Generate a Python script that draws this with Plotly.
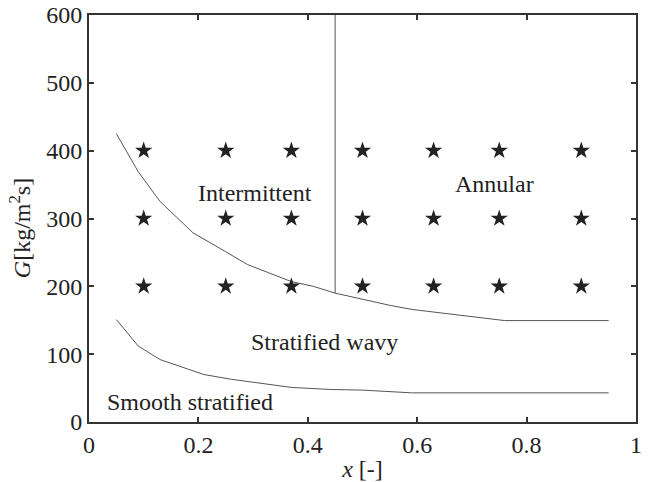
import plotly.graph_objects as go

# Upper transition curve (intermittent/annular vs stratified wavy)
upper_x = [0.05, 0.09, 0.13, 0.19, 0.25, 0.29, 0.37, 0.41, 0.45, 0.51, 0.55, 0.59, 0.64, 0.73, 0.76, 0.95]
upper_g = [425, 369, 325, 279, 251, 232, 207, 200, 190, 179, 172, 166, 161, 152, 149.5, 149.5]

# Lower transition curve (stratified wavy vs smooth stratified)
lower_x = [0.05, 0.09, 0.13, 0.21, 0.26, 0.37, 0.44, 0.50, 0.59, 0.95]
lower_g = [151, 112, 92, 70, 63, 51, 48, 47, 43, 43]

# Vertical boundary intermittent / annular
vline_x = [0.45, 0.45]
vline_g = [190, 600]

# Experimental points
exp_x = [0.1, 0.25, 0.37, 0.5, 0.63, 0.75, 0.9]
exp_g = [200, 300, 400]

# Region labels
label_text = ["Intermittent", "Annular", "Stratified wavy", "Smooth stratified"]
label_x = [0.304, 0.742, 0.43, 0.185]
label_g = [338, 351, 118, 30]

x_ticks = [0, 0.2, 0.4, 0.6, 0.8, 1]
x_ticklabels = ["0", "0.2", "0.4", "0.6", "0.8", "1"]
y_ticks = [0, 100, 200, 300, 400, 500, 600]

font_family = "Liberation Serif"
text_color = "#222222"
line_color = "#555555"

fig = go.Figure()
fig.add_trace(go.Scatter(x=upper_x, y=upper_g, mode="lines",
                         line=dict(color=line_color, width=1), showlegend=False))
fig.add_trace(go.Scatter(x=lower_x, y=lower_g, mode="lines",
                         line=dict(color=line_color, width=1), showlegend=False))
fig.add_trace(go.Scatter(x=vline_x, y=vline_g, mode="lines",
                         line=dict(color=line_color, width=1), showlegend=False))

px, py = [], []
for g in exp_g:
    for xv in exp_x:
        px.append(xv)
        py.append(g)
fig.add_trace(go.Scatter(x=px, y=py, mode="markers",
                         marker=dict(symbol="star", size=13, color=text_color,
                                     line=dict(width=0)),
                         showlegend=False))

for t, xv, gv in zip(label_text, label_x, label_g):
    fig.add_annotation(x=xv, y=gv, text=t, showarrow=False,
                       font=dict(family=font_family, size=24, color=text_color),
                       xanchor="center", yanchor="middle")

# y-axis title as a rotated annotation (placed to match the reference)
fig.add_annotation(xref="paper", yref="paper", x=-0.127, y=0.475,
                   text="<i>G</i>[kg/m<sup>2</sup>s]", textangle=-90, showarrow=False,
                   font=dict(family=font_family, size=24, color=text_color),
                   xanchor="center", yanchor="middle")

axis_common = dict(showline=True, linecolor="#333333", linewidth=2, mirror="ticks",
                   ticks="inside", ticklen=5, tickwidth=2, tickcolor="#333333",
                   showgrid=False, zeroline=False, automargin=False,
                   tickfont=dict(family=font_family, size=24, color=text_color))

fig.update_xaxes(range=[0, 1], tickvals=x_ticks, ticktext=x_ticklabels,
                 title=dict(text="<i>x</i> [-]", standoff=7,
                            font=dict(family=font_family, size=24, color=text_color)),
                 **axis_common)
fig.update_yaxes(range=[0, 600], tickvals=y_ticks, **axis_common)

fig.update_layout(width=649, height=482,
                  margin=dict(l=89, r=13, t=15, b=60, autoexpand=False),
                  plot_bgcolor="white", paper_bgcolor="white",
                  font=dict(family=font_family, color=text_color))

fig.write_html("out.html")
